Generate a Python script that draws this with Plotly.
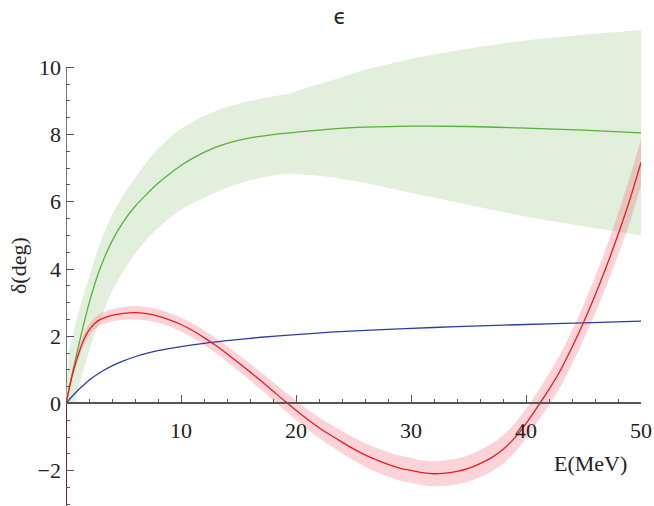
import plotly.graph_objects as go

# Phase shift epsilon vs lab energy
E_green = [0, 0.5, 1, 1.5, 2, 2.5, 3, 4, 5, 6, 7, 8, 9, 10, 11, 12, 13, 14, 16, 18, 20, 23, 26, 30, 35, 40, 45, 50]
green = [0, 0.82, 1.58, 2.3, 2.97, 3.55, 4.05, 4.83, 5.41, 5.86, 6.22, 6.55, 6.83, 7.08, 7.29, 7.47, 7.62, 7.74, 7.9, 8.0, 8.07, 8.16, 8.22, 8.25, 8.24, 8.19, 8.13, 8.05]

E_gband = [0, 0.15, 0.3, 0.6, 0.75, 1, 1.5, 2, 2.5, 3, 3.5, 4, 5, 6, 7, 8, 9, 10, 12, 14, 16, 18, 19.5, 21, 23, 26, 30, 35, 40, 45, 50]
green_lo = [0, 0, 0, 0, 0, 0.35, 0.98, 1.55, 2.05, 2.5, 2.95, 3.33, 3.95, 4.45, 4.87, 5.22, 5.52, 5.77, 6.12, 6.42, 6.64, 6.78, 6.84, 6.8, 6.74, 6.56, 6.27, 5.91, 5.56, 5.27, 5.0]
green_hi = [0, 1.0, 1.6, 2.0, 2.25, 2.6, 3.2, 3.75, 4.3, 4.8, 5.22, 5.6, 6.2, 6.7, 7.18, 7.57, 7.9, 8.17, 8.55, 8.82, 9.0, 9.13, 9.22, 9.4, 9.6, 9.92, 10.25, 10.55, 10.8, 10.97, 11.1]

E_red = [0, 0.25, 0.5, 0.75, 1, 1.5, 2, 2.5, 3, 4, 5, 6, 7, 8, 9, 10, 11, 12, 13, 14, 15, 16, 17, 18, 19, 20, 21, 22, 23, 24, 25, 26, 27, 28, 29, 30, 31, 32, 33, 34, 35, 36, 37, 38, 39, 40, 41, 42, 43, 44, 45, 46, 47, 48, 49, 50]
red = [0, 0.4, 0.78, 1.1, 1.38, 1.86, 2.18, 2.38, 2.5, 2.62, 2.68, 2.7, 2.67, 2.6, 2.49, 2.35, 2.17, 1.96, 1.73, 1.48, 1.21, 0.94, 0.66, 0.37, 0.08, -0.2, -0.47, -0.72, -0.94, -1.15, -1.35, -1.53, -1.68, -1.81, -1.92, -1.99, -2.06, -2.09, -2.07, -2.02, -1.93, -1.79, -1.61, -1.37, -1.03, -0.6, -0.1, 0.42, 0.99, 1.67, 2.41, 3.21, 4.08, 5.02, 6.03, 7.17]
red_err = [0.04, 0.08, 0.11, 0.13, 0.15, 0.16, 0.17, 0.17, 0.18, 0.18, 0.19, 0.2, 0.2, 0.2, 0.2, 0.21, 0.21, 0.22, 0.22, 0.23, 0.24, 0.25, 0.26, 0.27, 0.28, 0.29, 0.3, 0.31, 0.32, 0.33, 0.34, 0.35, 0.36, 0.36, 0.37, 0.37, 0.37, 0.37, 0.38, 0.38, 0.39, 0.4, 0.41, 0.42, 0.43, 0.44, 0.45, 0.47, 0.49, 0.5, 0.52, 0.55, 0.58, 0.62, 0.66, 0.7]

# the red solution drops along E = 0
E_red_drop = [0, 0]
red_drop = [-3.05, 0]

E_blue = [0, 0.5, 1, 1.5, 2, 3, 4, 5, 6, 7, 8, 10, 12, 14, 17, 20, 23, 27, 32, 36, 40, 45, 50]
blue = [0, 0.2, 0.38, 0.54, 0.69, 0.93, 1.12, 1.27, 1.39, 1.49, 1.57, 1.69, 1.79, 1.87, 1.97, 2.05, 2.12, 2.19, 2.26, 2.31, 2.35, 2.4, 2.45]

y_major = [-2, 0, 2, 4, 6, 8, 10]
x_major = [10, 20, 30, 40, 50]

AXIS = "#555555"
TEXT = "#222222"
SERIF = "Liberation Serif"
SMOOTH = dict(shape="spline", smoothing=0.8)


def band(x, lo, hi, color):
    """Two traces: the lower edge, then the upper edge filled down to it."""
    return [
        go.Scatter(x=x, y=lo, mode="lines", line=dict(width=0, **SMOOTH),
                   hoverinfo="skip", showlegend=False),
        go.Scatter(x=x, y=hi, mode="lines", line=dict(width=0, **SMOOTH),
                   fill="tonexty", fillcolor=color, hoverinfo="skip", showlegend=False),
    ]


fig = go.Figure()

for tr in band(E_gband, green_lo, green_hi, "#e1efdc"):
    fig.add_trace(tr)

fig.add_trace(go.Scatter(
    x=E_green, y=green, mode="lines",
    line=dict(color="#55b33a", width=1.3, **SMOOTH), showlegend=False))

red_hi = [v + e for v, e in zip(red, red_err)]
red_lo = [v - e for v, e in zip(red, red_err)]
for tr in band(E_red, red_lo, red_hi, "rgba(240,70,95,0.24)"):
    fig.add_trace(tr)

fig.add_trace(go.Scatter(
    x=E_blue, y=blue, mode="lines",
    line=dict(color="#2b3f9e", width=1.3, **SMOOTH), showlegend=False))

fig.add_trace(go.Scatter(
    x=E_red, y=red, mode="lines",
    line=dict(color="#ee1c1c", width=1.3, **SMOOTH), showlegend=False))

fig.add_trace(go.Scatter(
    x=E_red_drop, y=red_drop, mode="lines",
    line=dict(color="#6e2a2a", width=2), showlegend=False))

# vertical axis line only up to 10
fig.add_shape(type="line", x0=0, x1=0, y0=-3.05, y1=10, xref="x", yref="y",
              line=dict(color=AXIS, width=1.6), layer="below")

y_minor = [v / 2 for v in range(-6, 21) if v % 4 != 0]
x_minor = [v for v in range(2, 50, 2) if v % 10 != 0]

pl, pt, pr, pb = 66, 27, 13, 0
pw, ph = 654 - pl - pr, 506 - pt - pb

fig.update_layout(
    width=654, height=506,
    margin=dict(l=pl, r=pr, t=pt, b=pb),
    paper_bgcolor="white", plot_bgcolor="white",
    title=dict(text="ϵ", x=340 / 654, xanchor="center", y=1 - 17 / 506, yanchor="middle",
               font=dict(family="DejaVu Sans", size=21, color=TEXT)),
    xaxis=dict(
        range=[0, 50], showgrid=False, zeroline=False,
        anchor="free", position=3.05 / 14.25,
        showline=True, linecolor=AXIS, linewidth=1.6,
        tickmode="array", tickvals=x_major, ticktext=[str(v) for v in x_major],
        ticks="inside", ticklen=8, tickwidth=1.3, tickcolor=AXIS,
        ticklabelstandoff=7,
        minor=dict(tickmode="array", tickvals=x_minor, ticks="inside", ticklen=4,
                   tickwidth=1.1, tickcolor=AXIS, showgrid=False),
        tickfont=dict(family=SERIF, size=22, color=TEXT),
    ),
    yaxis=dict(
        range=[-3.05, 11.2], showgrid=False, zeroline=False, showline=False,
        tickmode="array", tickvals=y_major, ticktext=["\u22122", "0", "2", "4", "6", "8", "10"],
        ticks="inside", ticklen=8, tickwidth=1.3, tickcolor=AXIS,
        ticklabelstandoff=4,
        minor=dict(tickmode="array", tickvals=y_minor, ticks="inside", ticklen=4,
                   tickwidth=1.1, tickcolor=AXIS, showgrid=False),
        tickfont=dict(family=SERIF, size=22, color=TEXT),
    ),
    annotations=[
        dict(text="E(MeV)", x=(590 - pl) / pw, y=1 - (463 - pt) / ph,
             xref="paper", yref="paper", xanchor="center", yanchor="middle",
             showarrow=False, font=dict(family=SERIF, size=22, color=TEXT)),
        dict(text="δ(deg)", textangle=-90, x=(18 - pl) / pw, y=1 - (265 - pt) / ph,
             xref="paper", yref="paper", xanchor="center", yanchor="middle",
             showarrow=False, font=dict(family=SERIF, size=22, color=TEXT)),
    ],
)

fig.write_html("out.html")
